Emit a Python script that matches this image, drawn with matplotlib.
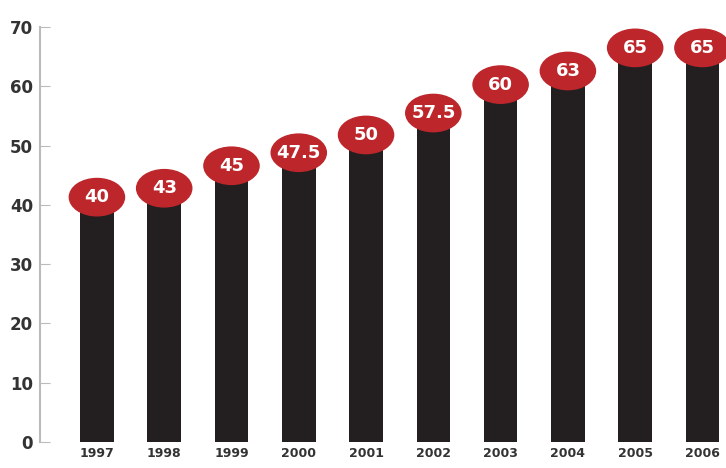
import matplotlib
matplotlib.use("Agg")
import matplotlib.pyplot as plt
from matplotlib.patches import Ellipse

years = ["1997", "1998", "1999", "2000", "2001", "2002", "2003", "2004", "2005", "2006"]
labels = ["40", "43", "45", "47.5", "50", "57.5", "60", "63", "65", "65"]
# bar heights as drawn in the picture (not quite to scale with the labels)
heights = [40, 41.5, 45.3, 47.5, 50.5, 54.2, 59, 61.3, 65.2, 65.2]

fig = plt.figure(figsize=(7.26, 4.68), dpi=100)
ax = fig.add_axes([0.055, 0.056, 0.945, 0.886])

x = list(range(len(years)))
ax.bar(x, heights, width=0.5, color="#231f20", zorder=2)

# red ovals carrying the value labels
for xi, h, lab in zip(x, heights, labels):
    ax.add_patch(Ellipse((xi, h + 1.3), 0.82, 6.3, color="#bd262b",
                         zorder=3, clip_on=False))
    ax.text(xi, h + 1.3, lab, ha="center", va="center", color="white",
            fontsize=13, fontweight="bold", zorder=4)

ax.set_xlim(-0.847, 9.35)
ax.set_ylim(0, 70)
ax.set_yticks(range(0, 71, 10))
ax.set_xticks(x)
ax.set_xticklabels(years)

for s in ["top", "right", "bottom"]:
    ax.spines[s].set_visible(False)
ax.spines["left"].set_color("#bbbbbb")
ax.spines["left"].set_linewidth(1.5)

ax.tick_params(axis="y", direction="in", length=7, color="#bbbbbb",
               labelsize=12, labelcolor="#333333", pad=5)
ax.tick_params(axis="x", length=0, labelsize=9, labelcolor="#333333", pad=4)
for t in ax.get_yticklabels() + ax.get_xticklabels():
    t.set_fontweight("bold")

fig.savefig("out.png", dpi=100)
